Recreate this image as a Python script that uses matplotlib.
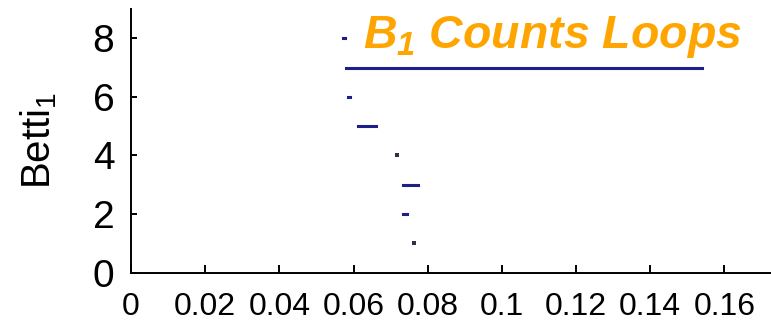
import matplotlib
matplotlib.use("Agg")
import matplotlib.pyplot as plt

# barcode for B1: one bar per row, birth -> death
rows   = [1, 2, 3, 4, 5, 6, 7, 8]
births = [0.0764, 0.0734, 0.0734, 0.0717, 0.0611, 0.0584, 0.0580, 0.0572]
deaths = [0.0764, 0.0744, 0.0773, 0.0717, 0.0660, 0.0591, 0.1539, 0.0578]

xticks = [0, 0.02, 0.04, 0.06, 0.08, 0.1, 0.12, 0.14, 0.16]
xtick_labels = ["0", "0.02", "0.04", "0.06", "0.08", "0.1", "0.12", "0.14", "0.16"]
yticks = [0, 2, 4, 6, 8]

BAR_COLOR   = "#1f1f8a"
DOT_COLOR   = "#303040"
TITLE_COLOR = "#ffa500"

plt.rcParams["mathtext.fontset"] = "custom"
plt.rcParams["mathtext.rm"] = "Liberation Sans"
plt.rcParams["mathtext.it"] = "Liberation Sans:italic:bold"
plt.rcParams["mathtext.bf"] = "Liberation Sans:italic:bold"
plt.rcParams["font.family"] = ["Liberation Sans", "DejaVu Sans"]

fig = plt.figure(figsize=(7.71, 3.26), dpi=100)
ax = fig.add_axes([0.170, 0.164, 0.830, 0.808])

# bars with real length as lines, zero-length ones as dots
long_r = [r for r, b, d in zip(rows, births, deaths) if d > b]
long_b = [b for b, d in zip(births, deaths) if d > b]
long_d = [d for b, d in zip(births, deaths) if d > b]
ax.hlines(long_r, long_b, long_d, colors=BAR_COLOR, linewidth=2.2, capstyle="projecting")
dot_r = [r for r, b, d in zip(rows, births, deaths) if d == b]
dot_b = [b for b, d in zip(births, deaths) if d == b]
ax.plot(dot_b, dot_r, "s", color=DOT_COLOR, ms=2.4, mew=0)

ax.set_xlim(0, 0.1726)
ax.set_ylim(0, 9)
ax.set_xticks(xticks)
ax.set_xticklabels(xtick_labels)
ax.set_yticks(yticks)

for s in ["top", "right"]:
    ax.spines[s].set_visible(False)
for s in ["left", "bottom"]:
    ax.spines[s].set_linewidth(1.4)

ax.tick_params(axis="x", direction="in", length=6, width=1.4, labelsize=23, pad=14)
ax.tick_params(axis="y", direction="in", length=4, width=1.4, labelsize=28, pad=12)

ax.set_ylabel(r"$\mathrm{Betti}_1$", fontsize=29, labelpad=24)

ax.text(0.0626, 7.68, r"$B_{\mathbf{1}}$ Counts Loops", color=TITLE_COLOR,
        fontsize=33.5, fontweight="bold", fontstyle="italic",
        family="Liberation Sans", va="baseline", ha="left")

plt.savefig("out.png", dpi=100, facecolor="white")
